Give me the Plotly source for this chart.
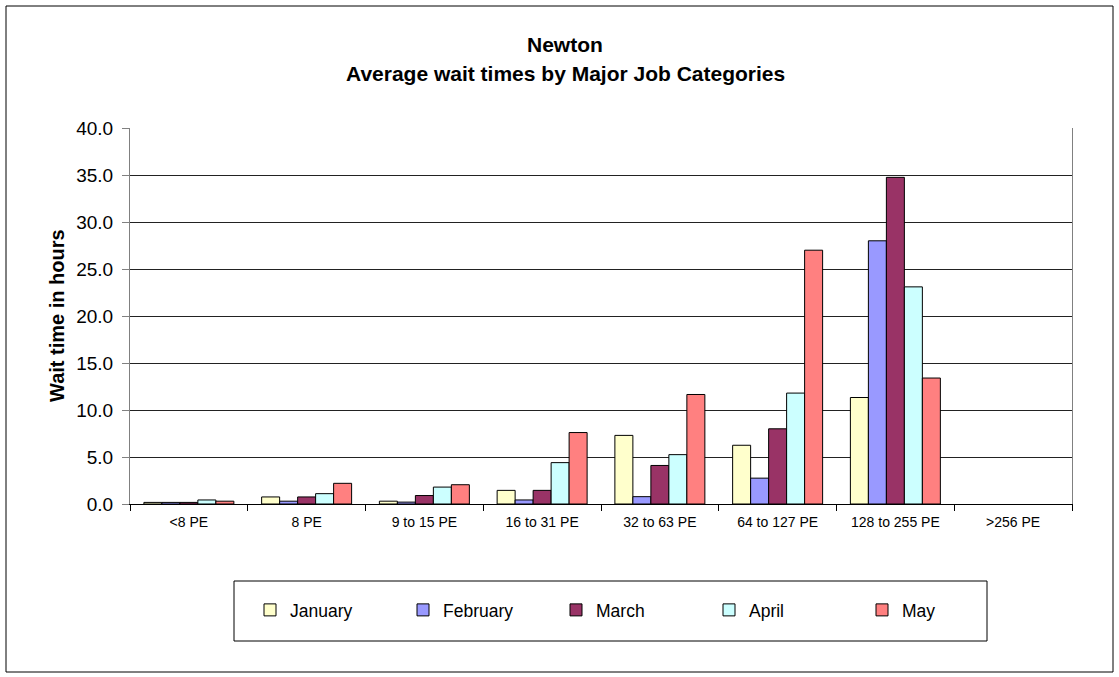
import plotly.graph_objects as go

categories = ["<8 PE", "8 PE", "9 to 15 PE", "16 to 31 PE", "32 to 63 PE",
              "64 to 127 PE", "128 to 255 PE", ">256 PE"]
months = ["January", "February", "March", "April", "May"]
january = [0.17, 0.75, 0.3, 1.45, 7.3, 6.25, 11.33, None]
february = [0.17, 0.3, 0.2, 0.43, 0.78, 2.75, 28.0, None]
march = [0.17, 0.75, 0.9, 1.45, 4.1, 8.0, 34.75, None]
april = [0.43, 1.1, 1.8, 4.4, 5.25, 11.8, 23.1, None]
may = [0.3, 2.2, 2.05, 7.6, 11.65, 27.0, 13.4, None]
series = [january, february, march, april, may]
colors = ["#FFFFCC", "#9999FF", "#993366", "#CCFFFF", "#FF8080"]

FONT = "Liberation Sans, Arial, Helvetica, sans-serif"

fig = go.Figure()
for name, vals, col in zip(months, series, colors):
    fig.add_trace(go.Bar(
        x=categories, y=vals, name=name,
        marker=dict(color=col, line=dict(color="#000000", width=1)),
    ))

W, H = 1119, 677
L, R, T, B = 130, 47, 128, 173
pw, ph = W - L - R, H - T - B

def px(x):
    return (x - L) / pw

def py(y):
    return (H - B - y) / ph

fig.update_layout(
    width=W, height=H,
    margin=dict(l=L, r=R, t=T, b=B),
    paper_bgcolor="white", plot_bgcolor="white",
    barmode="group", bargap=0.236, bargroupgap=0,
    font=dict(family=FONT, color="#000000"),
    showlegend=True,
    legend=dict(
        orientation="h", x=px(250), y=py(610), xanchor="left", yanchor="middle",
        font=dict(size=17.5, family=FONT), entrywidth=108, bgcolor="rgba(0,0,0,0)",
        traceorder="normal",
    ),
    xaxis=dict(
        showline=True, linecolor="#000000", linewidth=1,
        ticks="outside", tickson="boundaries", ticklen=6, tickcolor="#000000",
        tickfont=dict(size=14, family=FONT), showgrid=False, ticklabelstandoff=5,
    ),
    yaxis=dict(
        range=[0, 40], dtick=5, tickformat=".1f",
        showline=True, linecolor="#808080", linewidth=1, mirror=True,
        ticks="outside", ticklen=7, tickcolor="#808080",
        tickfont=dict(size=19, family=FONT), ticklabelstandoff=5,
        showgrid=True, gridcolor="#222222", gridwidth=1,
        zeroline=False,
    ),
    shapes=[
        dict(type="rect", xref="paper", yref="paper",
             x0=px(6), x1=px(1113), y0=py(672), y1=py(6),
             line=dict(color="#000000", width=1), fillcolor="rgba(0,0,0,0)", layer="below"),
        dict(type="rect", xref="paper", yref="paper",
             x0=px(234), x1=px(987), y0=py(641), y1=py(581),
             line=dict(color="#000000", width=1), fillcolor="rgba(0,0,0,0)", layer="below"),
    ],
    annotations=[
        dict(text="<b>Newton</b>", xref="paper", yref="paper", x=px(565), y=py(44),
             showarrow=False, xanchor="center", yanchor="middle",
             font=dict(size=21, family=FONT)),
        dict(text="<b>Average wait times by Major Job Categories</b>", xref="paper", yref="paper",
             x=px(565), y=py(73), showarrow=False, xanchor="center", yanchor="middle",
             font=dict(size=21, family=FONT)),
        dict(text="<b>Wait time in hours</b>", xref="paper", yref="paper", x=px(57), y=py(316),
             showarrow=False, xanchor="center", yanchor="middle", textangle=-90,
             font=dict(size=20, family=FONT)),
    ],
)

fig.write_html("out.html", config={"displayModeBar": False},
               post_script="document.body.style.margin='0';")
